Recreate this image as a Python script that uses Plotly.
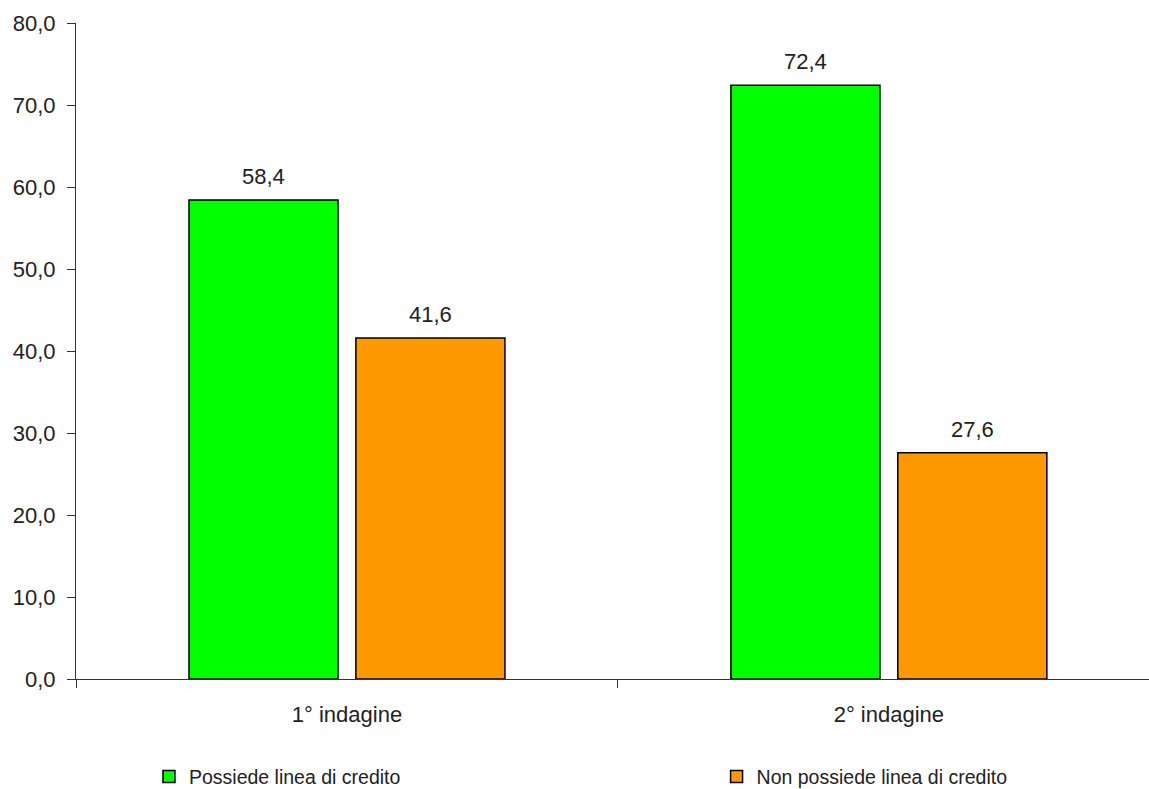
import plotly.graph_objects as go

categories = ["1° indagine", "2° indagine"]
series_names = ["Possiede linea di credito", "Non possiede linea di credito"]
possiede = [58.4, 72.4]
non_possiede = [41.6, 27.6]
colors = ["#00FF00", "#FF9900"]
y_ticks = [0, 10, 20, 30, 40, 50, 60, 70, 80]

font_family = "Liberation Sans, Arial, sans-serif"
text_color = "#222222"
axis_color = "#333333"

fig = go.Figure()
legends = ["legend", "legend2"]
for name, vals, col, lg in zip(series_names, [possiede, non_possiede], colors, legends):
    fig.add_trace(go.Bar(
        x=categories, y=vals, name=name, legend=lg,
        marker=dict(color=col, line=dict(color="#000000", width=1.5)),
        hoverinfo="x+y+name",
    ))

# value labels above bars
offsets = [-83.5, 83.5]
for vals, xs in zip([possiede, non_possiede], offsets):
    for c, v in zip(categories, vals):
        fig.add_annotation(x=c, y=v, xref="x", yref="y", text=f"{v:.1f}".replace(".", ","),
                           showarrow=False, xshift=xs, yshift=9, yanchor="bottom",
                           font=dict(size=22, color=text_color, family=font_family))

legend_common = dict(orientation="h", yanchor="middle", y=-0.149, xanchor="left",
                     font=dict(size=19.5, color=text_color, family=font_family),
                     bgcolor="rgba(0,0,0,0)", itemclick=False, itemdoubleclick=False)

fig.update_layout(
    width=1149, height=789,
    margin=dict(l=76, r=0, t=23, b=110, autoexpand=False),
    paper_bgcolor="white", plot_bgcolor="white",
    separators=",.",
    barmode="group", bargap=0.384, bargroupgap=0.107,
    font=dict(family=font_family, size=22, color=text_color),
    showlegend=True,
    legend=dict(x=0.068, **legend_common),
    legend2=dict(x=0.597, **legend_common),
    xaxis=dict(range=[-0.5, 1.48], tickson="boundaries", ticks="outside", ticklen=8,
               tickcolor=axis_color, showline=True, linecolor=axis_color, linewidth=1,
               showgrid=False, tickfont=dict(size=22), ticklabelstandoff=16),
    yaxis=dict(range=[0, 80], tickvals=y_ticks, tickformat=".1f", ticks="outside",
               ticklen=8, tickcolor=axis_color, showline=True, linecolor=axis_color,
               linewidth=1, showgrid=False, zeroline=False, tickfont=dict(size=22),
               ticklabelstandoff=7),
)

fig.write_html("out.html")
